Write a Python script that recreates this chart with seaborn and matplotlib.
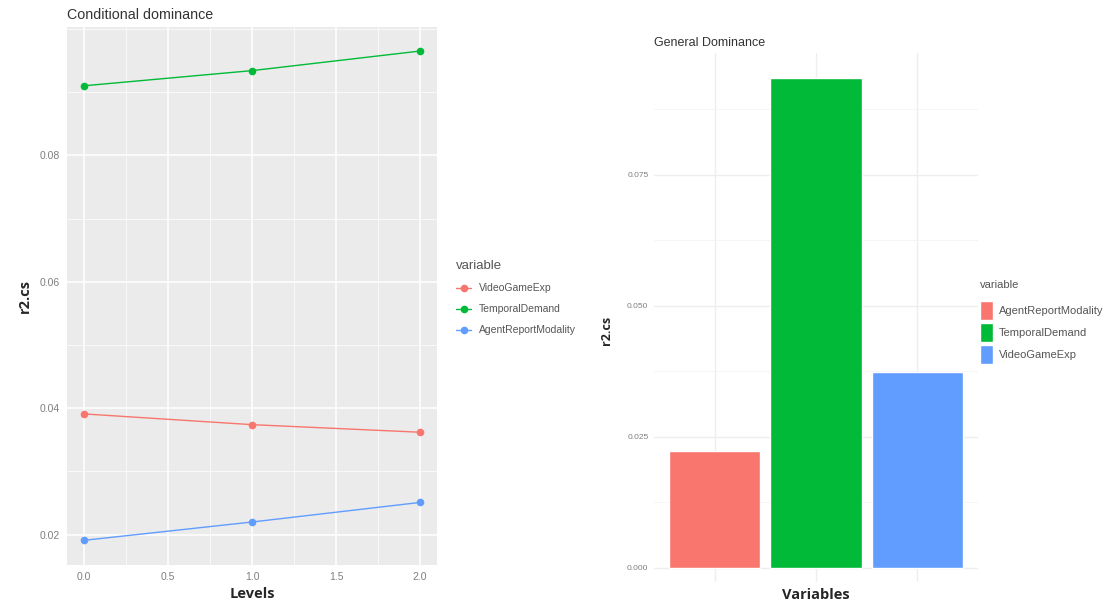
import matplotlib
matplotlib.use("Agg")
import matplotlib.pyplot as plt
import seaborn as sns
import pandas as pd
import numpy as np
from matplotlib.ticker import MultipleLocator

# Conditional dominance values
levels = [0, 1, 2]
video_game_exp = [0.0391, 0.0374, 0.0362]
temporal_demand = [0.0910, 0.0934, 0.0965]
agent_report_modality = [0.0191, 0.0220, 0.0251]
line_order = ["VideoGameExp", "TemporalDemand", "AgentReportModality"]

# General dominance values
bar_vars = ["AgentReportModality", "TemporalDemand", "VideoGameExp"]
bar_values = [0.0222, 0.0935, 0.0374]

colors = {"AgentReportModality": "#619CFF", "TemporalDemand": "#00BA38",
          "VideoGameExp": "#F8766D"}
bar_colors = {"AgentReportModality": "#F8766D", "TemporalDemand": "#00BA38",
              "VideoGameExp": "#619CFF"}

cond = pd.DataFrame({
    "Levels": levels * 3,
    "r2.cs": video_game_exp + temporal_demand + agent_report_modality,
    "variable": [v for v in line_order for _ in levels],
})
gen = pd.DataFrame({"variable": bar_vars, "r2.cs": bar_values})

sns.set_style("white")
plt.rcParams["font.family"] = ["Liberation Sans", "DejaVu Sans"]

fig = plt.figure(figsize=(11.09, 6.04), dpi=100)
W, H = 1109, 604

def box(x0, y0, x1, y1):
    return [x0 / W, 1 - y1 / H, (x1 - x0) / W, (y1 - y0) / H]

# ---- left: conditional dominance (ggplot grey theme) ----
ax1 = fig.add_axes(box(67, 27, 437, 565))
ax1.set_facecolor("#EBEBEB")
sns.lineplot(data=cond, x="Levels", y="r2.cs", hue="variable", hue_order=line_order,
             palette=colors, marker="o", markersize=5.5, markeredgewidth=0,
             linewidth=1.0, ax=ax1)
ax1.set_xlim(-0.1, 2.1)
ax1.set_ylim(0.0152, 0.1003)
ax1.xaxis.set_minor_locator(MultipleLocator(0.25))
ax1.yaxis.set_minor_locator(MultipleLocator(0.01))
ax1.set_xticks([0, 0.5, 1.0, 1.5, 2.0])
ax1.set_xticklabels(["0.0", "0.5", "1.0", "1.5", "2.0"])
ax1.set_yticks([0.02, 0.04, 0.06, 0.08])
ax1.set_yticklabels(["0.02", "0.04", "0.06", "0.08"])
ax1.grid(which="major", color="white", linewidth=1.1)
ax1.grid(which="minor", color="white", linewidth=0.5)
ax1.set_axisbelow(True)
for s in ax1.spines.values():
    s.set_visible(False)
ax1.tick_params(which="major", length=3, width=0.6, color="#555555", pad=2,
                labelsize=7.5, labelcolor="#7F7F7F")
ax1.tick_params(which="minor", length=0)
ax1.set_title("Conditional dominance", loc="left", fontsize=10.3, color="#333333", pad=6)
ax1.set_xlabel("Levels", fontsize=10.5, fontweight="bold", family="Open Sans", labelpad=4)
ax1.set_ylabel("r2.cs", fontsize=10.5, fontweight="bold", family="Open Sans", labelpad=6)

h, l = ax1.get_legend_handles_labels()
ax1.legend(h, l, title="variable", loc="upper left", bbox_to_anchor=(447 / W, 1 - 251 / H),
           bbox_transform=fig.transFigure, frameon=False, fontsize=7.5, title_fontsize=9.5,
           handlelength=1.4, labelspacing=1.05, alignment="left", labelcolor="#555555")
ax1.get_legend().get_title().set_color("#555555")

# ---- right: general dominance (minimal theme) ----
ax2 = fig.add_axes(box(654, 53, 978, 582))
sns.barplot(data=gen, x="variable", y="r2.cs", hue="variable", order=bar_vars,
            hue_order=bar_vars, palette=bar_colors, width=0.9, dodge=False,
            saturation=1, legend=True, ax=ax2)
ax2.set_xlim(-0.6, 2.6)
ax2.set_ylim(-0.0027, 0.0982)
ax2.set_yticks([0, 0.025, 0.05, 0.075])
ax2.set_yticklabels(["0.000", "0.025", "0.050", "0.075"])
ax2.yaxis.set_minor_locator(MultipleLocator(0.0125))
ax2.set_xticklabels([])
ax2.grid(which="major", color="#EEEEEE", linewidth=1.0)
ax2.grid(which="minor", axis="y", color="#F4F4F4", linewidth=0.6)
ax2.set_axisbelow(True)
for s in ax2.spines.values():
    s.set_visible(False)
ax2.tick_params(which="both", length=0, pad=4, labelsize=6, labelcolor="#7F7F7F")
ax2.set_title("General Dominance", loc="left", fontsize=9, color="#333333", pad=5)
ax2.set_xlabel("Variables", fontsize=10.5, fontweight="bold", family="Open Sans", labelpad=0)
ax2.set_ylabel("r2.cs", fontsize=9, fontweight="bold", family="Open Sans")
ax2.yaxis.set_label_coords(-0.127, 0.476)

h2, l2 = ax2.get_legend_handles_labels()
leg2 = ax2.legend(h2, l2, title="variable", loc="upper left",
                  bbox_to_anchor=(970 / W, 1 - 270 / H),
                  bbox_transform=fig.transFigure, frameon=False, fontsize=8, title_fontsize=8,
                  handlelength=1.2, handleheight=2.3, handletextpad=0.5, labelspacing=0.25,
                  alignment="left", labelcolor="#555555")
leg2.get_title().set_color("#555555")
# a bit more room between the legend title and its keys
leg2._legend_box.sep = 7.8

fig.savefig("out.png", dpi=100)
